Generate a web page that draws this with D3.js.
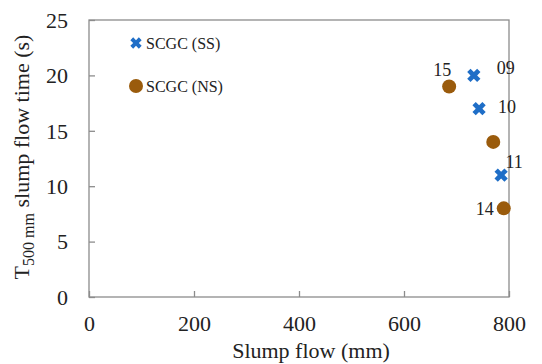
<!DOCTYPE html>
<html lang="en"><head>
<meta charset="utf-8">
<title>Slump flow</title>
<script src="https://cdnjs.cloudflare.com/ajax/libs/d3/7.8.5/d3.min.js"></script>
<style>
body { margin: 0; background: #fff; }
svg text { font-family: "Liberation Serif", "DejaVu Serif", "Times New Roman", serif !important; fill: #222; }
</style>
</head>
<body>
<div id="chart"></div>
<script>
// data
var ssFlow = [733, 743, 785];
var ssTime = [20, 17, 11];
var ssLabel = ["09", "10", "11"];
var nsFlow = [686, 770, 790];
var nsTime = [19, 14, 8];
var nsLabel = ["15", "", "14"];
var xTicks = [0, 200, 400, 600, 800];
var yTicks = [0, 5, 10, 15, 20, 25];
var seriesNames = ["SCGC (SS)", "SCGC (NS)"];

var width = 542, height = 364;
var m = {top: 20, right: 33, bottom: 67, left: 89};
var blue = "#1f6ec7", brown = "#9a5b0c";

var svg = d3.select("#chart").append("svg").attr("width", width).attr("height", height);

var x = d3.scaleLinear().domain([0, 800]).range([m.left, width - m.right]);
var y = d3.scaleLinear().domain([0, 25]).range([height - m.bottom, m.top]);

// frame
svg.append("rect")
    .attr("x", x(0)).attr("y", y(25))
    .attr("width", x(800) - x(0)).attr("height", y(0) - y(25))
    .attr("fill", "none").attr("stroke", "#8c8c8c").attr("stroke-width", 1.3);

// axes, ticks inside
var xAxis = svg.append("g").attr("transform", "translate(0," + y(0) + ")")
    .call(d3.axisBottom(x).tickValues(xTicks).tickSizeInner(-6).tickSizeOuter(0));
var yAxis = svg.append("g").attr("transform", "translate(" + x(0) + ",0)")
    .call(d3.axisLeft(y).tickValues(yTicks).tickSizeInner(-6).tickSizeOuter(0));
[xAxis, yAxis].forEach(function(a) {
    a.attr("font-family", null).attr("font-size", null);
    a.select(".domain").remove();
    a.selectAll(".tick line").attr("stroke", "#8c8c8c").attr("stroke-width", 1.3);
    a.selectAll(".tick text").style("font-size", "22px").attr("fill", "#222");
});
xAxis.selectAll(".tick text").attr("y", 34).attr("dy", 0);
yAxis.selectAll(".tick text").attr("x", -21).attr("dy", "0.33em");

// axis titles
svg.append("text").attr("x", 311).attr("y", 358)
    .attr("text-anchor", "middle").style("font-size", "22px").text("Slump flow (mm)");

var yt = svg.append("text").attr("transform", "translate(29,157) rotate(-90)")
    .attr("text-anchor", "middle").style("font-size", "22px");
yt.append("tspan").text("T");
yt.append("tspan").attr("dy", 5).style("font-size", "16px").text("500 mm");
yt.append("tspan").attr("dy", -5).text(" slump flow time (s)");

var xMark = d3.symbol().type(d3.symbolCross).size(110);

// SS series
var ss = ssFlow.map(function(v, i) { return {x: v, y: ssTime[i], l: ssLabel[i]}; });
svg.selectAll(".ss").data(ss).enter().append("path")
    .attr("class", "ss")
    .attr("d", xMark)
    .attr("fill", blue)
    .attr("transform", function(d) { return "translate(" + x(d.x) + "," + y(d.y) + ") rotate(45)"; });

// NS series
var ns = nsFlow.map(function(v, i) { return {x: v, y: nsTime[i], l: nsLabel[i]}; });
svg.selectAll(".ns").data(ns).enter().append("circle")
    .attr("class", "ns")
    .attr("cx", function(d) { return x(d.x); })
    .attr("cy", function(d) { return y(d.y); })
    .attr("r", 7)
    .attr("fill", brown);

// point labels
var labOff = {"09": [32, -8], "10": [28, -2], "11": [13, -13], "14": [-19, 0], "15": [-7, -17]};
svg.selectAll(".lab").data(ss.concat(ns).filter(function(d) { return d.l; })).enter().append("text")
    .attr("x", function(d) { return x(d.x) + labOff[d.l][0]; })
    .attr("y", function(d) { return y(d.y) + labOff[d.l][1]; })
    .attr("dy", "0.35em")
    .attr("text-anchor", "middle")
    .style("font-size", "18px")
    .text(function(d) { return d.l; });

// legend
var leg = svg.append("g").attr("transform", "translate(136,43)");
leg.append("path").attr("d", d3.symbol().type(d3.symbolCross).size(80)).attr("fill", blue)
    .attr("transform", "rotate(45)");
leg.append("circle").attr("cy", 43).attr("r", 7).attr("fill", brown);
leg.selectAll("text").data(seriesNames).enter().append("text")
    .attr("x", 10).attr("y", function(d, i) { return i * 43; })
    .attr("dy", "0.35em").style("font-size", "16px")
    .text(function(d) { return d; });
</script>
</body></html>
